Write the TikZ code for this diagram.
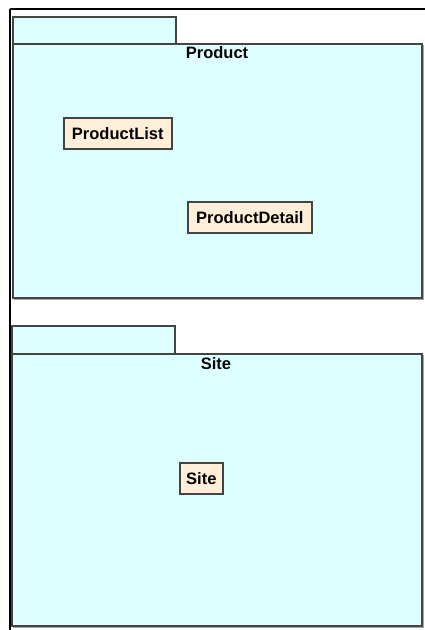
\documentclass[tikz,border=0pt]{standalone}
\usepackage{fontspec}
\setmainfont{Liberation Sans}
\begin{document}
\begin{tikzpicture}[x=1pt,y=-1pt,
  pkgfill/.style={fill=pkgcyan,draw=pkgedge,line width=1.3pt},
  pkgshadow/.style={draw=gray!70,line width=1pt},
  pkglabel/.style={font=\fontsize{16.5}{18}\selectfont\bfseries,inner sep=0pt},
  classbox/.style={fill=classfill,draw=pkgedge,line width=1.6pt,
    font=\fontsize{16.5}{18}\selectfont\bfseries,inner sep=0pt,anchor=north west},
  frameline/.style={draw=black,line width=2pt}]
\definecolor{pkgcyan}{HTML}{DDFFFF}
\definecolor{classfill}{HTML}{FFEED8}
\definecolor{pkgedge}{HTML}{444444}
\useasboundingbox (0,0) rectangle (425,630);
\fill[white] (0,0) rectangle (425,630);

% outer frame edges
\draw[frameline] (9.5,8.5) -- (425,8.5);
\draw[frameline] (9.5,8.5) -- (9.5,630);

% package Product
\draw[pkgfill] (13,17) rectangle (176,44);
\draw[pkgfill] (13,44) rectangle (422,298);
\draw[pkgshadow] (423.5,45) -- (423.5,299.5) -- (14,299.5);
\node[pkglabel] (productlbl) at (217,53) {Product};

\node[classbox,minimum width=108pt,minimum height=31pt] (productlist) at (63,117) {ProductList};
\node[classbox,minimum width=124pt,minimum height=31pt] (productdetail) at (187,201) {ProductDetail};

% package Site
\draw[pkgfill] (12,326) rectangle (175,354);
\draw[pkgfill] (12,354) rectangle (422,626);
\draw[pkgshadow] (423.5,355) -- (423.5,627.5) -- (13,627.5);
\node[pkglabel] (sitelbl) at (216,364) {Site};

\node[classbox,minimum width=43pt,minimum height=31pt] (site) at (179,462) {Site};
\end{tikzpicture}
\end{document}
